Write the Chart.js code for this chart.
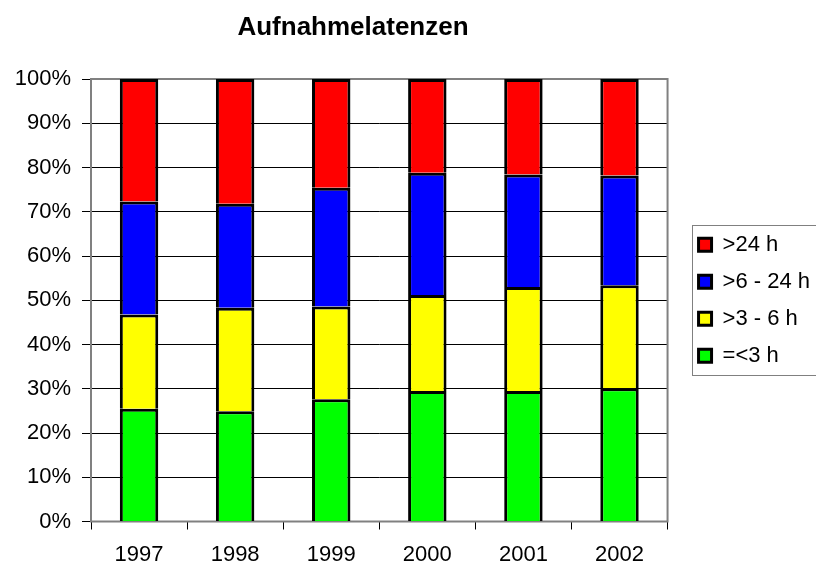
<!DOCTYPE html>
<html lang="de">
<head>
    <meta charset="UTF-8">
    <title>Aufnahmelatenzen</title>
    <style>
        body {
            margin: 0;
            background: #fff;
            font-family: Arial, "Liberation Sans", sans-serif;
        }
        .chart-box {
            width: 816px;
            height: 567px;
        }
    </style>
    <script src="https://cdn.jsdelivr.net/npm/chart.js"></script>
</head>
<body>
    <div class="chart-box">
        <canvas id="latenzChart"></canvas>
    </div>

    <script>
        // Jahre und Anteile (in %) je Latenzklasse
        const years = ['1997', '1998', '1999', '2000', '2001', '2002'];
        const under3h = [25.5, 24.9, 27.6, 29.5, 29.5, 30.1];
        const from3to6h = [21.3, 23.4, 21.0, 21.7, 23.5, 23.3];
        const from6to24h = [25.5, 23.5, 26.8, 27.6, 25.4, 24.8];
        const over24h = [27.7, 28.2, 24.6, 21.2, 21.6, 21.8];
        const yTicks = [0, 10, 20, 30, 40, 50, 60, 70, 80, 90, 100];

        const fontFamily = 'Arial, "Liberation Sans", sans-serif';

        // Titel etwas links von der Mitte, wie im Original
        const titlePlugin = {
            id: 'titleText',
            afterDraw(chart) {
                const ctx = chart.ctx;
                ctx.save();
                ctx.font = 'bold 26px ' + fontFamily;
                ctx.fillStyle = '#000';
                ctx.textAlign = 'center';
                ctx.textBaseline = 'alphabetic';
                ctx.fillText('Aufnahmelatenzen', 353, 35);
                ctx.restore();
            }
        };

        // grauer Rahmen der Zeichenfläche
        const framePlugin = {
            id: 'plotFrame',
            beforeDatasetsDraw(chart) {
                const a = chart.chartArea;
                const ctx = chart.ctx;
                ctx.save();
                ctx.strokeStyle = '#808080';
                ctx.lineWidth = 2;
                ctx.strokeRect(a.left, a.top, a.right - a.left, a.bottom - a.top);
                ctx.restore();
            }
        };

        // Rahmen um die Legende
        const legendFramePlugin = {
            id: 'legendFrame',
            afterDraw(chart) {
                const boxes = chart.legend.legendHitBoxes;
                if (!boxes || !boxes.length) return;
                const first = boxes[0];
                const last = boxes[boxes.length - 1];
                const ctx = chart.ctx;
                ctx.save();
                ctx.strokeStyle = '#808080';
                ctx.lineWidth = 1;
                const x = Math.round(first.left - 7) + 0.5;
                const top = Math.round(first.top - 9) + 0.5;
                const bottom = Math.round(last.top + last.height + 8) + 0.5;
                ctx.strokeRect(x, top, chart.width + 20 - x, bottom - top);
                ctx.restore();
            }
        };

        const ctx = document.getElementById('latenzChart').getContext('2d');
        const latenzChart = new Chart(ctx, {
            type: 'bar',
            data: {
                labels: years,
                datasets: [
                    { label: '=<3 h', data: under3h, backgroundColor: '#00FF00' },
                    { label: '>3 - 6 h', data: from3to6h, backgroundColor: '#FFFF00' },
                    { label: '>6 - 24 h', data: from6to24h, backgroundColor: '#0000FF' },
                    { label: '>24 h', data: over24h, backgroundColor: '#FF0000' }
                ]
            },
            options: {
                responsive: true,
                maintainAspectRatio: false,
                animation: false,
                layout: {
                    padding: { top: 79, right: -4, bottom: 0, left: 0 }
                },
                datasets: {
                    bar: {
                        borderColor: '#000',
                        borderWidth: 3,
                        barPercentage: 0.4,
                        categoryPercentage: 1
                    }
                },
                plugins: {
                    title: { display: false },
                    tooltip: { enabled: false },
                    legend: {
                        position: 'right',
                        fullSize: false,
                        reverse: true,
                        labels: {
                            boxWidth: 13,
                            boxHeight: 13,
                            padding: 15,
                            color: '#000',
                            font: { family: fontFamily, size: 22 }
                        }
                    }
                },
                scales: {
                    x: {
                        stacked: true,
                        offset: true,
                        afterFit: s => { s.height = 45.5; },
                        grid: {
                            offset: true,
                            drawOnChartArea: false,
                            drawTicks: true,
                            tickLength: 8,
                            tickColor: '#000'
                        },
                        border: { display: true, color: '#000', width: 1 },
                        ticks: {
                            color: '#000',
                            padding: 12,
                            font: { family: fontFamily, size: 22 }
                        }
                    },
                    y: {
                        stacked: true,
                        min: 0,
                        max: 100,
                        afterFit: s => { s.width = 91; },
                        afterBuildTicks: s => { s.ticks = yTicks.map(v => ({ value: v })); },
                        grid: {
                            color: c => (c.tick && c.tick.value === 100) ? '#808080' : '#000',
                            lineWidth: 1,
                            tickLength: 9,
                            tickColor: '#000'
                        },
                        border: { display: true, color: '#000', width: 1 },
                        ticks: {
                            color: '#000',
                            padding: 11,
                            font: { family: fontFamily, size: 22 },
                            callback: v => v + '%'
                        }
                    },
                    gap: {
                        position: 'right',
                        display: true,
                        afterFit: s => { s.width = 16; },
                        grid: { display: false },
                        border: { display: false },
                        ticks: { display: false }
                    }
                }
            },
            plugins: [titlePlugin, framePlugin, legendFramePlugin]
        });
    </script>
</body>
</html>
